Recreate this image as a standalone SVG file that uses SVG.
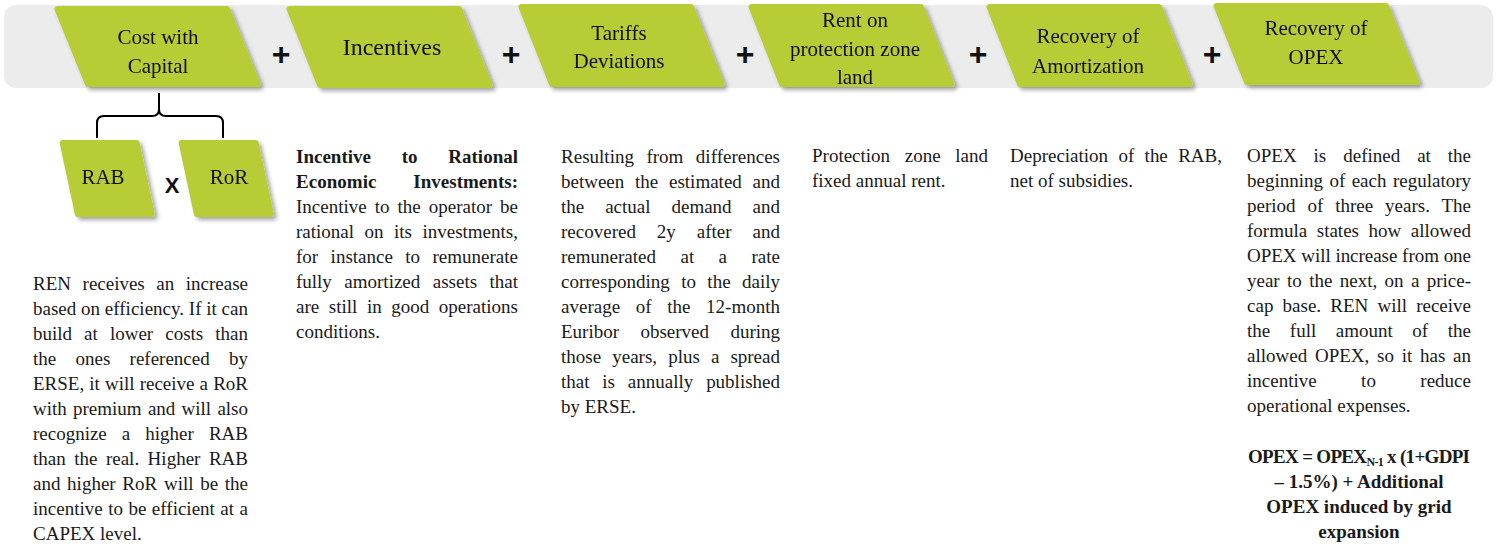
<svg xmlns="http://www.w3.org/2000/svg" width="1498" height="546" viewBox="0 0 1498 546">
  <defs>
    <filter id="shadow" x="-10%" y="-10%" width="130%" height="140%">
      <feDropShadow dx="3" dy="3" stdDeviation="2.2" flood-color="#000" flood-opacity="0.35"/>
    </filter>
    <style>
      .band { fill: #ececec; }
      .box { fill: #b7cc34; stroke: #b7cc34; stroke-width: 6; stroke-linejoin: round; }
      .lbl { font-family: "Liberation Serif", "Times New Roman", serif; font-size: 21px; fill: #111; text-anchor: middle; }
      .op { font-family: "Liberation Sans", Arial, sans-serif; font-size: 32px; font-weight: bold; fill: #111; text-anchor: middle; }
      .mul { font-family: "Liberation Sans", Arial, sans-serif; font-size: 22px; font-weight: bold; fill: #111; text-anchor: middle; }
      .body { font-family: "Liberation Serif", "Times New Roman", serif; font-size: 19px; fill: #1a1a1a; }
      .b { font-weight: bold; }
      .ctr { text-anchor: middle; }
      .brace { fill: none; stroke: #000; stroke-width: 2; }
    </style>
  </defs>

  <!-- background band behind the formula terms -->
  <rect class="band" x="4" y="5" width="1489" height="83" rx="12"/>

  <!-- top formula terms -->
  <g id="cost-with-capital" filter="url(#shadow)">
    <polygon class="box" points="57.5,9 227,9 257.5,84 88,84"/>
    <text class="lbl" x="158" y="44">Cost with</text>
    <text class="lbl" x="158" y="73">Capital</text>
  </g>
  <g id="incentives" filter="url(#shadow)">
    <polygon class="box" points="289.5,9 459,9 489.5,85 320,85"/>
    <text class="lbl" x="392" y="55" style="font-size:24px">Incentives</text>
  </g>
  <g id="tariffs-deviations" filter="url(#shadow)">
    <polygon class="box" points="521.5,7 691,7 721.5,84 552,84"/>
    <text class="lbl" x="619" y="40">Tariffs</text>
    <text class="lbl" x="619" y="68">Deviations</text>
  </g>
  <g id="rent-protection-zone" filter="url(#shadow)">
    <polygon class="box" points="751.5,7 921,7 951.5,84 782,84"/>
    <text class="lbl" x="855" y="27">Rent on</text>
    <text class="lbl" x="855" y="56">protection zone</text>
    <text class="lbl" x="855" y="84">land</text>
  </g>
  <g id="recovery-amortization" filter="url(#shadow)">
    <polygon class="box" points="989.5,7 1159,7 1189.5,84 1020,84"/>
    <text class="lbl" x="1088" y="43">Recovery of</text>
    <text class="lbl" x="1088" y="73">Amortization</text>
  </g>
  <g id="recovery-opex" filter="url(#shadow)">
    <polygon class="box" points="1216.5,6 1386,6 1416.5,82 1247,82"/>
    <text class="lbl" x="1316" y="35">Recovery of</text>
    <text class="lbl" x="1316" y="64">OPEX</text>
  </g>

  <!-- operators between terms -->
  <g id="operators">
    <text class="op" x="281" y="65">+</text>
    <text class="op" x="511" y="65">+</text>
    <text class="op" x="745" y="65">+</text>
    <text class="op" x="978" y="65">+</text>
    <text class="op" x="1212" y="65">+</text>
  </g>

  <!-- brace splitting Cost with Capital into its factors -->
  <g id="connectors">
    <path class="brace" d="M97,138 V123 Q97,116 104,116 H152 Q159,116 159,109 V93 M159,109 Q159,116 166,116 H216 Q223,116 223,123 V138"/>
  </g>

  <g id="rab" filter="url(#shadow)">
    <polygon class="box" points="62.7,143 136.6,143 151.8,214 77.9,214"/>
    <text class="lbl" x="103" y="184">RAB</text>
  </g>
  <text class="mul" x="172" y="193">X</text>
  <g id="ror" filter="url(#shadow)">
    <polygon class="box" points="181.7,143 255.6,143 270.8,214 196.9,214"/>
    <text class="lbl" x="229" y="184">RoR</text>
  </g>

  <!-- descriptions -->
  <g id="desc-capital" class="body">
    <text x="33" y="290" textLength="215" lengthAdjust="spacing" style="word-spacing:6.8px">REN receives an increase</text>
    <text x="33" y="315" textLength="215" lengthAdjust="spacing">based on efficiency. If it can</text>
    <text x="33" y="340" textLength="215" lengthAdjust="spacing" style="word-spacing:7.3px">build at lower costs than</text>
    <text x="33" y="365" textLength="215" lengthAdjust="spacing" style="word-spacing:14.5px">the ones referenced by</text>
    <text x="33" y="390" textLength="215" lengthAdjust="spacing" style="word-spacing:0.4px">ERSE, it will receive a RoR</text>
    <text x="33" y="415" textLength="215" lengthAdjust="spacing" style="word-spacing:1.5px">with premium and will also</text>
    <text x="33" y="440" textLength="215" lengthAdjust="spacing" style="word-spacing:10.3px">recognize a higher RAB</text>
    <text x="33" y="465" textLength="215" lengthAdjust="spacing" style="word-spacing:3.7px">than the real. Higher RAB</text>
    <text x="33" y="490" textLength="215" lengthAdjust="spacing" style="word-spacing:1.9px">and higher RoR will be the</text>
    <text x="33" y="515" textLength="215" lengthAdjust="spacing" style="word-spacing:0.7px">incentive to be efficient at a</text>
    <text x="33" y="540">CAPEX level.</text>
  </g>

  <g id="desc-incentives" class="body">
    <text class="b" x="296" y="163" textLength="222" lengthAdjust="spacing" style="word-spacing:26px">Incentive to Rational</text>
    <text class="b" x="296" y="188" textLength="222" lengthAdjust="spacing" style="word-spacing:32px">Economic Investments:</text>
    <text x="296" y="213" textLength="222" lengthAdjust="spacing" style="word-spacing:3.3px">Incentive to the operator be</text>
    <text x="296" y="238" textLength="222" lengthAdjust="spacing" style="word-spacing:5.7px">rational on its investments,</text>
    <text x="296" y="263" textLength="222" lengthAdjust="spacing" style="word-spacing:7.7px">for instance to remunerate</text>
    <text x="296" y="288" textLength="222" lengthAdjust="spacing" style="word-spacing:7.7px">fully amortized assets that</text>
    <text x="296" y="313" textLength="222" lengthAdjust="spacing" style="word-spacing:4.8px">are still in good operations</text>
    <text x="296" y="338">conditions.</text>
  </g>

  <g id="desc-tariffs" class="body">
    <text x="561" y="163" textLength="219" lengthAdjust="spacing" style="word-spacing:7.7px">Resulting from differences</text>
    <text x="561" y="188" textLength="219" lengthAdjust="spacing" style="word-spacing:6px">between the estimated and</text>
    <text x="561" y="213" textLength="219" lengthAdjust="spacing" style="word-spacing:16.2px">the actual demand and</text>
    <text x="561" y="238" textLength="219" lengthAdjust="spacing" style="word-spacing:16.2px">recovered 2y after and</text>
    <text x="561" y="263" textLength="219" lengthAdjust="spacing" style="word-spacing:19.7px">remunerated at a rate</text>
    <text x="561" y="288" textLength="219" lengthAdjust="spacing" style="word-spacing:6.7px">corresponding to the daily</text>
    <text x="561" y="313" textLength="219" lengthAdjust="spacing" style="word-spacing:10.9px">average of the 12-month</text>
    <text x="561" y="338" textLength="219" lengthAdjust="spacing" style="word-spacing:16.6px">Euribor observed during</text>
    <text x="561" y="363" textLength="219" lengthAdjust="spacing" style="word-spacing:6.3px">those years, plus a spread</text>
    <text x="561" y="388" textLength="219" lengthAdjust="spacing" style="word-spacing:8.1px">that is annually published</text>
    <text x="561" y="413">by ERSE.</text>
  </g>

  <g id="desc-rent" class="body">
    <text x="812" y="162" textLength="176" lengthAdjust="spacing" style="word-spacing:9.9px">Protection zone land</text>
    <text x="812" y="187">fixed annual rent.</text>
  </g>

  <g id="desc-amortization" class="body">
    <text x="1010" y="162" textLength="212" lengthAdjust="spacing" style="word-spacing:5.6px">Depreciation of the RAB,</text>
    <text x="1010" y="187">net of subsidies.</text>
  </g>

  <g id="desc-opex" class="body">
    <text x="1247" y="162" textLength="224" lengthAdjust="spacing" style="word-spacing:12.2px">OPEX is defined at the</text>
    <text x="1247" y="187" textLength="224" lengthAdjust="spacing" style="word-spacing:1.7px">beginning of each regulatory</text>
    <text x="1247" y="212" textLength="224" lengthAdjust="spacing" style="word-spacing:7.1px">period of three years. The</text>
    <text x="1247" y="237" textLength="224" lengthAdjust="spacing" style="word-spacing:4.8px">formula states how allowed</text>
    <text x="1247" y="262" textLength="224" lengthAdjust="spacing">OPEX will increase from one</text>
    <text x="1247" y="287" textLength="224" lengthAdjust="spacing" style="word-spacing:2.6px">year to the next, on a price-</text>
    <text x="1247" y="312" textLength="224" lengthAdjust="spacing" style="word-spacing:4.4px">cap base. REN will receive</text>
    <text x="1247" y="337" textLength="224" lengthAdjust="spacing" style="word-spacing:14.8px">the full amount of the</text>
    <text x="1247" y="362" textLength="224" lengthAdjust="spacing" style="word-spacing:3px">allowed OPEX, so it has an</text>
    <text x="1247" y="387" textLength="224" lengthAdjust="spacing" style="word-spacing:39.7px">incentive to reduce</text>
    <text x="1247" y="412">operational expenses.</text>

    <text class="b ctr" x="1359" y="463" textLength="222" lengthAdjust="spacing">OPEX = OPEX<tspan font-size="12" dy="3">N-1</tspan><tspan dy="-3"> x (1+GDPI</tspan></text>
    <text class="b ctr" x="1359" y="488">– 1.5%) + Additional</text>
    <text class="b ctr" x="1359" y="513">OPEX induced by grid</text>
    <text class="b ctr" x="1359" y="538">expansion</text>
  </g>
</svg>
